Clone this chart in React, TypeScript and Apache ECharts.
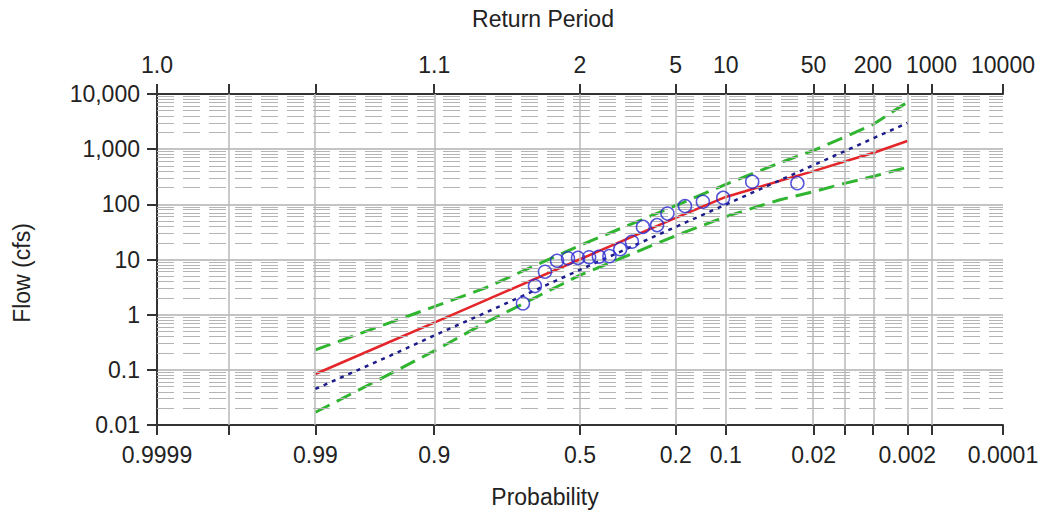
import React, { useEffect, useRef } from "react";
import * as echarts from "echarts";

// ---- data ----
const bottomTickProbs = [0.9999, 0.999, 0.99, 0.9, 0.5, 0.2, 0.1, 0.02, 0.01, 0.005, 0.002, 0.001, 0.0001];
const bottomLabelProbs = [0.9999, 0.99, 0.9, 0.5, 0.2, 0.1, 0.02, 0.002, 0.0001];
const bottomLabels = ["0.9999", "0.99", "0.9", "0.5", "0.2", "0.1", "0.02", "0.002", "0.0001"];
const topLabelProbs = [0.9999, 0.9, 0.5, 0.2, 0.1, 0.02, 0.005, 0.001, 0.0001];
const topLabels = ["1.0", "1.1", "2", "5", "10", "50", "200", "1000", "10000"];
const gridProbs = [0.999, 0.99, 0.9, 0.5, 0.2, 0.1, 0.02, 0.01, 0.005, 0.002, 0.001, 0.0001];
const yDecades = [0.01, 0.1, 1, 10, 100, 1000, 10000];
const yLabels = ["0.01", "0.1", "1", "10", "100", "1,000", "10,000"];
const minorSteps = [2, 3, 4, 5, 6, 7, 8, 9];

const curveProbs = [0.99, 0.95, 0.9, 0.8, 0.5, 0.2, 0.1, 0.04, 0.02, 0.01, 0.005, 0.002];
const fittedFlow = [0.084, 0.34, 0.72, 1.78, 10.1, 57, 136, 264, 400, 597, 851, 1405];
const lognormFlow = [0.045, 0.19, 0.42, 1.06, 6.5, 39, 99, 269, 514, 918, 1567, 2980];
const upperFlow = [0.23, 0.75, 1.4, 3.0, 18, 95, 230, 560, 950, 1650, 2800, 7100];
const lowerFlow = [0.017, 0.09, 0.22, 0.7, 5.2, 27, 60, 120, 170, 240, 320, 470];

const obsProbs = [0.028, 0.065, 0.104, 0.14, 0.178, 0.221, 0.249, 0.29, 0.324, 0.362, 0.398, 0.434, 0.468, 0.507, 0.542, 0.58, 0.621, 0.654, 0.692];
const obsFlows = [242, 256, 131, 111, 93, 68, 42, 39, 21, 15.4, 11.5, 11.2, 11.0, 10.7, 10.5, 9.5, 6.0, 3.3, 1.6];

// ---- normal probability transform ----
function normInv(p: number): number {
  const a = [-3.969683028665376e1, 2.209460984245205e2, -2.759285104469687e2, 1.38357751867269e2, -3.066479806614716e1, 2.506628277459239];
  const b = [-5.447609879822406e1, 1.615858368580409e2, -1.556989798598866e2, 6.680131188771972e1, -1.328068155288572e1];
  const c = [-7.784894002430293e-3, -3.223964580411365e-1, -2.400758277161838, -2.549732539343734, 4.374664141464968, 2.938163982698783];
  const d = [7.784695709041462e-3, 3.224671290700398e-1, 2.445134137142996, 3.754408661907416];
  const plow = 0.02425;
  if (p < plow) {
    const q = Math.sqrt(-2 * Math.log(p));
    return (((((c[0] * q + c[1]) * q + c[2]) * q + c[3]) * q + c[4]) * q + c[5]) / ((((d[0] * q + d[1]) * q + d[2]) * q + d[3]) * q + 1);
  }
  if (p <= 1 - plow) {
    const q = p - 0.5;
    const r = q * q;
    return ((((((a[0] * r + a[1]) * r + a[2]) * r + a[3]) * r + a[4]) * r + a[5]) * q) / (((((b[0] * r + b[1]) * r + b[2]) * r + b[3]) * r + b[4]) * r + 1);
  }
  const q = Math.sqrt(-2 * Math.log(1 - p));
  return -(((((c[0] * q + c[1]) * q + c[2]) * q + c[3]) * q + c[4]) * q + c[5]) / ((((d[0] * q + d[1]) * q + d[2]) * q + d[3]) * q + 1);
}
const zOf = (exceed: number) => -normInv(exceed);

const FONT = "Liberation Sans, Arial, sans-serif";
const FS = 23;
const TXT = "#222222";

function labelFor(v: number, probs: number[], labels: string[]) {
  let best = 0;
  let bd = Infinity;
  probs.forEach((p, i) => {
    const dd = Math.abs(zOf(p) - v);
    if (dd < bd) { bd = dd; best = i; }
  });
  return bd < 1e-3 ? labels[best] : "";
}

export default function App() {
  const ref = useRef<HTMLDivElement>(null);
  useEffect(() => {
    if (!ref.current) return;
    const chart = echarts.init(ref.current, undefined, { renderer: "svg" });
    const xMin = zOf(0.9999);
    const xMax = zOf(0.0001);
    const minorVals: number[] = [];
    yDecades.slice(0, -1).forEach((dv) => minorSteps.forEach((m) => minorVals.push(dv * m)));

    const mk = (probs: number[], vals: number[]) => probs.map((p, i) => [zOf(p), vals[i]]);

    chart.setOption({
      animation: false,
      textStyle: { fontFamily: FONT },
      grid: { left: 157, right: 42, top: 94, bottom: 91, containLabel: false },
      xAxis: [
        {
          type: "value",
          position: "bottom",
          min: xMin,
          max: xMax,
          axisLine: { show: true, onZero: false, lineStyle: { color: "#333", width: 2 } },
          axisTick: { show: true, length: 10, customValues: bottomTickProbs.map(zOf), lineStyle: { color: "#333", width: 2 } },
          axisLabel: {
            show: true, margin: 18, fontSize: FS, color: TXT, fontFamily: FONT,
            customValues: bottomLabelProbs.map(zOf),
            formatter: (v: number) => labelFor(v, bottomLabelProbs, bottomLabels),
          },
          splitLine: { show: false },
        },
        {
          type: "value",
          position: "top",
          min: xMin,
          max: xMax,
          axisLine: { show: true, onZero: false, lineStyle: { color: "#333", width: 2 } },
          axisTick: { show: true, length: 10, customValues: bottomTickProbs.map(zOf), lineStyle: { color: "#333", width: 2 } },
          axisLabel: {
            show: true, margin: 18, fontSize: FS, color: TXT, fontFamily: FONT,
            customValues: topLabelProbs.map(zOf),
            formatter: (v: number) => labelFor(v, topLabelProbs, topLabels),
          },
          splitLine: { show: false },
        },
      ],
      yAxis: {
        type: "log",
        logBase: 10,
        min: 0.01,
        max: 10000,
        position: "left",
        axisLine: { show: true, onZero: false, lineStyle: { color: "#333", width: 2 } },
        axisTick: { show: true, length: 10, lineStyle: { color: "#333", width: 2 } },
        axisLabel: {
          margin: 17, fontSize: FS, color: TXT, fontFamily: FONT,
          formatter: (v: number) => {
            const e = Math.round(Math.log10(v));
            const i = yDecades.findIndex((d) => Math.round(Math.log10(d)) === e);
            return i >= 0 ? yLabels[i] : "";
          },
        },
        splitLine: { show: true, lineStyle: { color: "#c4c4c4", width: 2 } },
      },
      graphic: [
        { type: "text", x: 543, y: 19, style: { text: "Return Period", font: `${FS}px ${FONT}`, fill: TXT, align: "center", verticalAlign: "middle" } },
        { type: "text", x: 545, y: 497, style: { text: "Probability", font: `${FS}px ${FONT}`, fill: TXT, align: "center", verticalAlign: "middle" } },
        { type: "text", x: 22, y: 273, rotation: Math.PI / 2, style: { text: "Flow (cfs)", font: `${FS}px ${FONT}`, fill: TXT, align: "center", verticalAlign: "middle" } },
      ],
      series: [
        {
          name: "grid",
          type: "line",
          z: 0,
          data: [[0, 1]],
          symbol: "none",
          lineStyle: { opacity: 0 },
          silent: true,
          markLine: {
            silent: true,
            symbol: "none",
            label: { show: false },
            animation: false,
            data: [
              ...minorVals.map((v) => ({ yAxis: v, lineStyle: { color: "#b4b4b4", width: 1, type: [17, 9] } })),
              ...gridProbs.map((p) => ({ xAxis: zOf(p), lineStyle: { color: "#b8b8b8", width: 1.5, type: "solid" } })),
            ],
          },
        },
        { name: "upper", type: "line", z: 3, data: mk(curveProbs, upperFlow), symbol: "none", lineStyle: { color: "#2fb52f", width: 3, type: [16, 8] } },
        { name: "lower", type: "line", z: 3, data: mk(curveProbs, lowerFlow), symbol: "none", lineStyle: { color: "#2fb52f", width: 3, type: [16, 8] } },
        { name: "fitted", type: "line", z: 4, data: mk(curveProbs, fittedFlow), symbol: "none", lineStyle: { color: "#e4262b", width: 2.5 } },
        { name: "lognormal", type: "line", z: 5, data: mk(curveProbs, lognormFlow), symbol: "none", lineStyle: { color: "#1c1c8a", width: 2.5, type: [4, 5] } },
        {
          name: "observed",
          type: "scatter",
          z: 6,
          data: mk(obsProbs, obsFlows),
          symbol: "circle",
          symbolSize: 13,
          itemStyle: { color: "rgba(0,0,0,0)", borderColor: "#2b2bd0", borderWidth: 1.5 },
        },
      ],
    });
    return () => chart.dispose();
  }, []);
  return <div ref={ref} style={{ position: "fixed", left: 0, top: 0, width: 1045, height: 516, background: "#fff" }} />;
}
